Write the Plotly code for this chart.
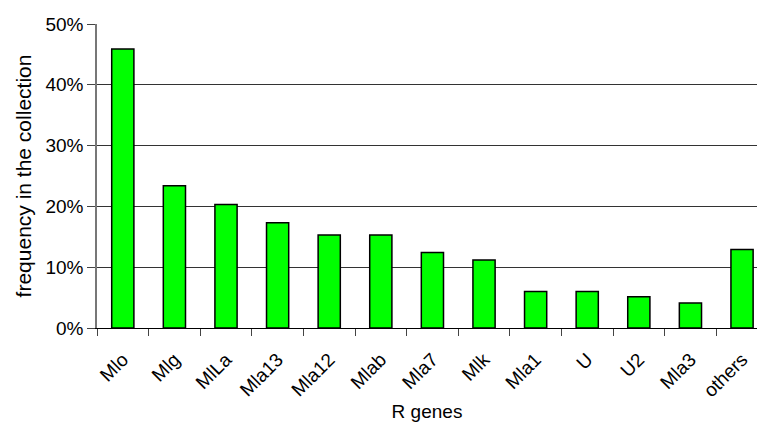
import plotly.graph_objects as go

# R gene categories and their frequency in the collection (fraction)
genes = ["Mlo", "Mlg", "MlLa", "Mla13", "Mla12", "Mlab", "Mla7", "Mlk",
         "Mla1", "U", "U2", "Mla3", "others"]
frequency = [0.459, 0.234, 0.203, 0.173, 0.153, 0.153, 0.124, 0.112,
             0.060, 0.060, 0.0515, 0.041, 0.129]

y_ticks = [0, 0.1, 0.2, 0.3, 0.4, 0.5]

font_family = "Liberation Sans, Arial, sans-serif"

fig = go.Figure(
    go.Bar(
        x=genes,
        y=frequency,
        marker=dict(color="#00ff00", line=dict(color="black", width=1.5)),
        hoverinfo="x+y",
    )
)

fig.update_layout(
    width=757,
    height=448,
    margin=dict(l=97, r=0, t=24, b=120),
    plot_bgcolor="white",
    paper_bgcolor="white",
    bargap=0.57,
    showlegend=False,
    font=dict(family=font_family, size=19, color="black"),
)

fig.update_xaxes(
    type="category",
    range=[-0.5, 12.29],
    tickson="boundaries",
    ticks="outside",
    ticklen=7,
    tickcolor="#444",
    tickwidth=1,
    tickangle=-45,
    ticklabelstandoff=12,
    showline=True,
    linecolor="black",
    linewidth=1,
    showgrid=False,
    title=dict(text="R genes", font=dict(size=19), standoff=4),
)

fig.update_yaxes(
    range=[0, 0.5],
    tickvals=y_ticks,
    tickformat=".0%",
    ticks="outside",
    ticklen=8,
    tickcolor="#444",
    showline=True,
    linecolor="#777",
    linewidth=1.5,
    showgrid=True,
    gridcolor="#333",
    gridwidth=1,
    zeroline=False,
    title=dict(text="frequency in the collection", font=dict(size=21), standoff=8),
)

fig.write_html("out.html")
